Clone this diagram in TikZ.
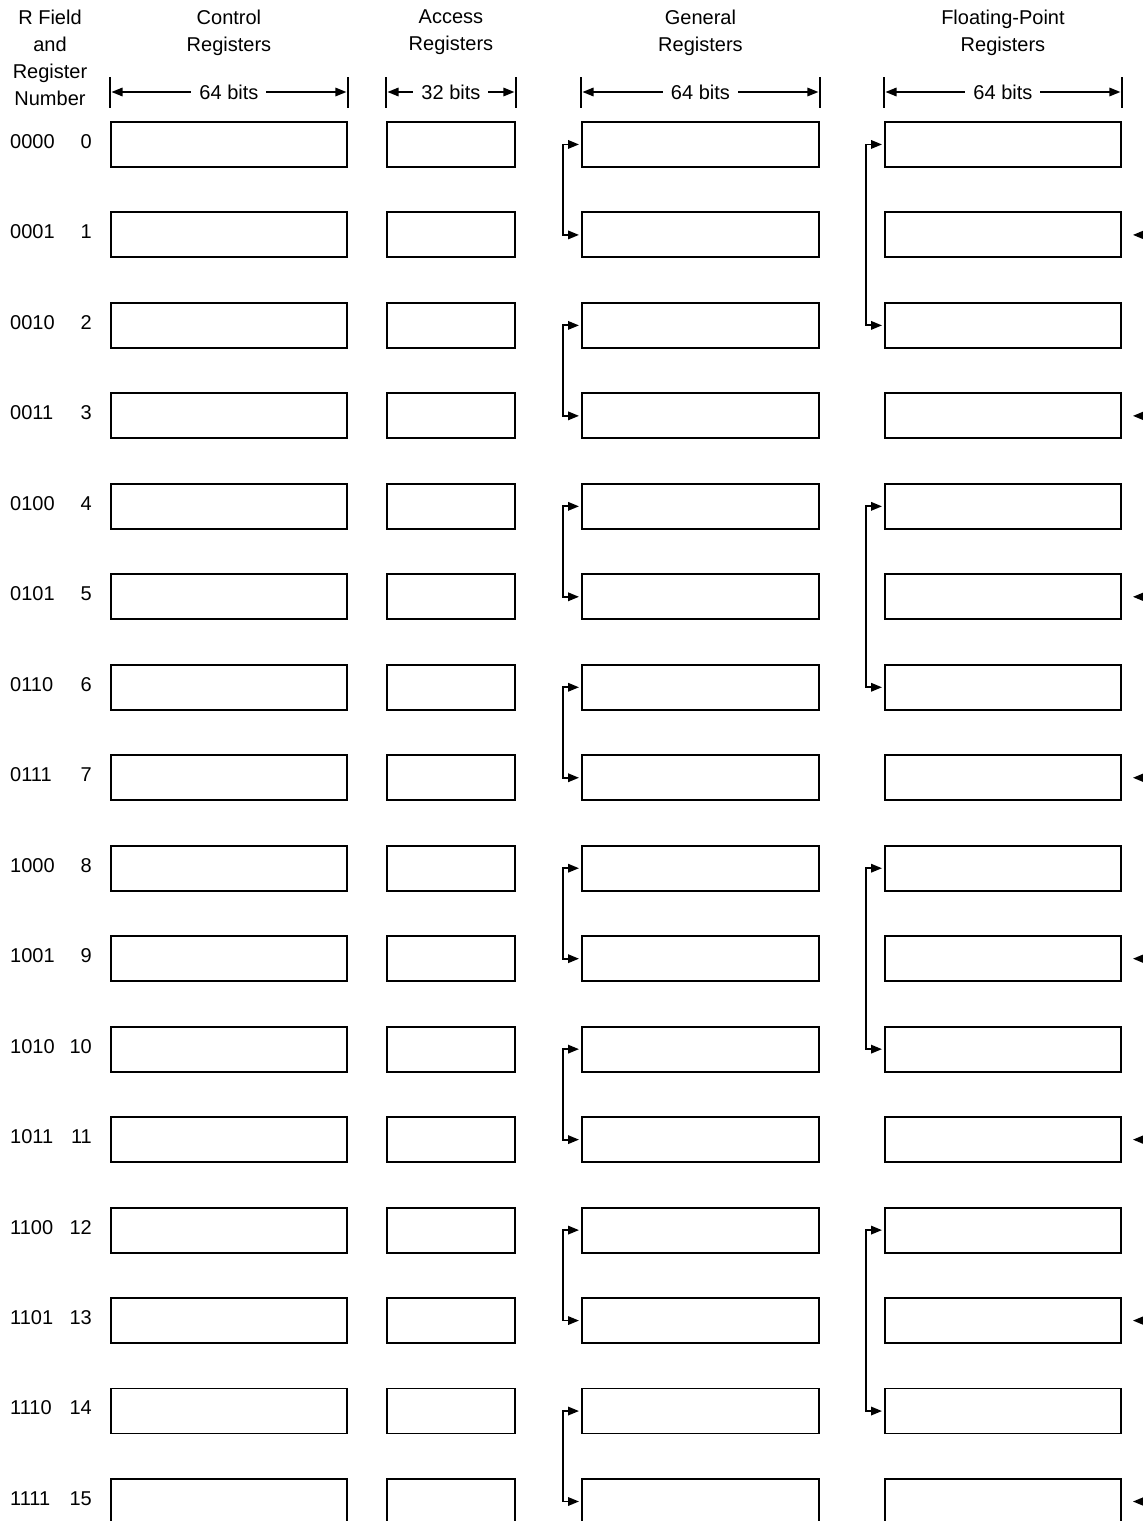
\documentclass[tikz,border=0pt]{standalone}
\usepackage{fontspec}
\setmainfont{Liberation Sans}
\usetikzlibrary{arrows.meta,positioning,calc}
\tikzset{
  reg/.style={draw, line width=1.9pt, inner sep=0pt, minimum width=#1, minimum height=45pt, anchor=north west},
  lbl/.style={font=\fontsize{20}{27}\selectfont, align=center, inner sep=0pt},
  bar/.style={line width=1.6pt},
  dim/.style={{Triangle[length=11pt,width=8.5pt]}-{Triangle[length=11pt,width=8.5pt]}, line width=1.6pt, shorten <=1.5pt, shorten >=1.5pt},
  link/.style={{Triangle[length=11pt,width=8.5pt]}-{Triangle[length=11pt,width=8.5pt]}, line width=1.8pt, shorten <=2pt, shorten >=2pt},
  ptr/.style={-{Triangle[length=11pt,width=8.5pt]}, line width=1.8pt},
}

\begin{document}
\begin{tikzpicture}[x=1pt, y=-1pt]
\useasboundingbox (0,0) rectangle (1143,1521);
% register rows
\foreach \b [count=\n from 0] in {0000,0001,0010,0011,0100,0101,0110,0111,1000,1001,1010,1011,1100,1101,1110,1111}{
  \node[reg=236pt] (cr\n) at (110,121+90.47*\n) {};
  \node[reg=128pt] (ar\n) at (386,121+90.47*\n) {};
  \node[reg=237pt] (gr\n) at (581,121+90.47*\n) {};
  \node[reg=236pt] (fr\n) at (884,121+90.47*\n) {};
  \node[lbl, anchor=west] (bin\n) at (10,141.5+90.47*\n) {\b};
  \node[lbl, anchor=east] (num\n) at (92,141.5+90.47*\n) {\n};
}
% headings
\node[lbl, anchor=north] (hrf) at (50,10) {R Field\\and\\Register\\Number};
\node[lbl, anchor=north] (hcr) at (cr0.north |- hrf.north) {Control\\Registers};
\node[lbl, anchor=north] (har) at (ar0.north |- hrf.north) {Access\\Registers};
\node[lbl, anchor=north] (hgr) at (gr0.north |- hrf.north) {General\\Registers};
\node[lbl, anchor=north] (hfr) at (fr0.north |- hrf.north) {Floating-Point\\Registers};
% widths
\foreach \c/\w in {cr/64,ar/32,gr/64,fr/64}{
  \draw[bar] ([yshift=44pt]\c0.north west) -- ([yshift=13pt]\c0.north west);
  \draw[bar] ([yshift=44pt]\c0.north east) -- ([yshift=13pt]\c0.north east);
  \draw[dim] ([yshift=29pt]\c0.north west) -- ([yshift=29pt]\c0.north east)
    node[midway, lbl, fill=white, inner xsep=8pt, inner ysep=2pt] (w\c) {\w\ bits};
}
% pairs of general registers
\foreach \i/\j in {0/1,2/3,4/5,6/7,8/9,10/11,12/13,14/15}
  \draw[link] (gr\i.west) -- ++(-18,0) |- (gr\j.west);
% floating-point pairs
\foreach \i/\j in {0/2,4/6,8/10,12/14}
  \draw[link] (fr\i.west) -- ++(-18,0) |- (fr\j.west);
\foreach \i in {1,3,...,15}{
  \coordinate (fin\i) at ($(fr\i.east)+(40,0)$);
  \draw[ptr] (fin\i) -- ([xshift=11pt]fr\i.east);
}
\end{tikzpicture}
\end{document}
